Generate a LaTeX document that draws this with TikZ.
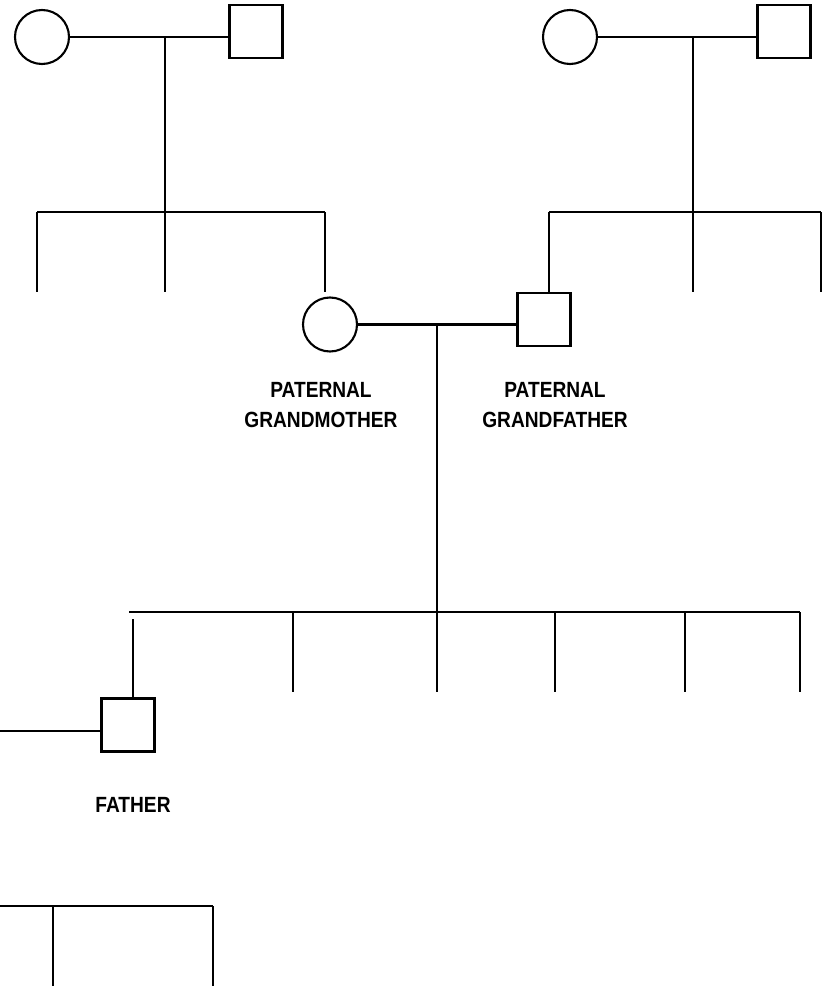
\documentclass[tikz,border=0pt]{standalone}
\usepackage{fontspec}
\newfontfamily\lblfont{Liberation Sans}[FakeStretch=0.87]
\begin{document}
\begin{tikzpicture}[x=1pt,y=-1pt,
  ln/.style={line width=2.1pt},
  female/.style={circle,draw,line width=2.1pt,minimum size=54pt,inner sep=0pt},
  male/.style={rectangle,draw,line width=2.1pt,minimum size=53pt,inner sep=0pt},
  lbl/.style={align=center,inner sep=0pt,anchor=north,font=\lblfont\bfseries\fontsize{22}{30}\selectfont}]
\useasboundingbox (0,0) rectangle (825,987);
% top-left couple
\node[female] (c1) at (42,37) {};
\node[male] (s1) at (256,31.5) {};
\coordinate (m1) at (165,37);
\coordinate (b1) at (165,212);
\coordinate (l1a) at (37,212);
\coordinate (l1c) at (325,212);
\coordinate (e1a) at (37,292);
\coordinate (e1b) at (165,292);
\coordinate (e1c) at (325,292);
\draw[ln] (c1.east) -- (c1.east -| s1.west);
\draw[ln] (m1) -- (b1);
\draw[ln] (l1a) -- (l1c);
\draw[ln] (l1a) -- (e1a);
\draw[ln] (b1) -- (e1b);
\draw[ln] (l1c) -- (e1c);
% top-right couple
\node[female] (c2) at (570,37) {};
\node[male] (s2) at (784,31.5) {};
\coordinate (m2) at (693,37);
\coordinate (b2) at (693,212);
\coordinate (l2a) at (549,212);
\coordinate (l2c) at (821,212);
\coordinate (e2b) at (693,292);
\coordinate (e2c) at (821,292);
\draw[ln] (c2.east) -- (c2.east -| s2.west);
\draw[ln] (m2) -- (b2);
\draw[ln] (l2a) -- (l2c);
\draw[ln] (b2) -- (e2b);
\draw[ln] (l2c) -- (e2c);
% paternal grandparents
\node[female] (gm) at (330,324.5) {};
\node[male] (gf) at (544,319.5) {};
\draw[ln] (l2a) -- (gf.north -| l2a);
\draw[ln] (gm.east) -- (gm.east -| gf.west);
\node[lbl] (tgm) at (321,382) {PATERNAL\\GRANDMOTHER};
\node[lbl] (tgf) at (555,382) {PATERNAL\\GRANDFATHER};
% children of grandparents
\coordinate (m3) at (437,324.5);
\coordinate (b3) at (437,612);
\coordinate (l3a) at (129,612);
\coordinate (l3z) at (800,612);
\draw[ln] (m3) -- (b3);
\draw[ln] (l3a) -- (l3z);
\node[male] (fa) at (128,725) {};
\coordinate (k1) at (133,619);
\draw[ln] (k1) -- (k1 |- fa.north);
\foreach \x/\n in {293/k2,437/k3,555/k4,685/k5,800/k6}{
  \coordinate (\n t) at (\x,612);
  \coordinate (\n b) at (\x,692);
  \draw[ln] (\n t) -- (\n b);
}
\coordinate (sp) at (0,731);
\draw[ln] (sp) -- (sp -| fa.west);
\node[lbl] (tfa) at (133,797) {FATHER};
% bottom family
\coordinate (l4a) at (0,906);
\coordinate (l4b) at (53,906);
\coordinate (l4c) at (213,906);
\coordinate (e4b) at (53,986);
\coordinate (e4c) at (213,986);
\draw[ln] (l4a) -- (l4c);
\draw[ln] (l4b) -- (e4b);
\draw[ln] (l4c) -- (e4c);
\end{tikzpicture}
\end{document}
